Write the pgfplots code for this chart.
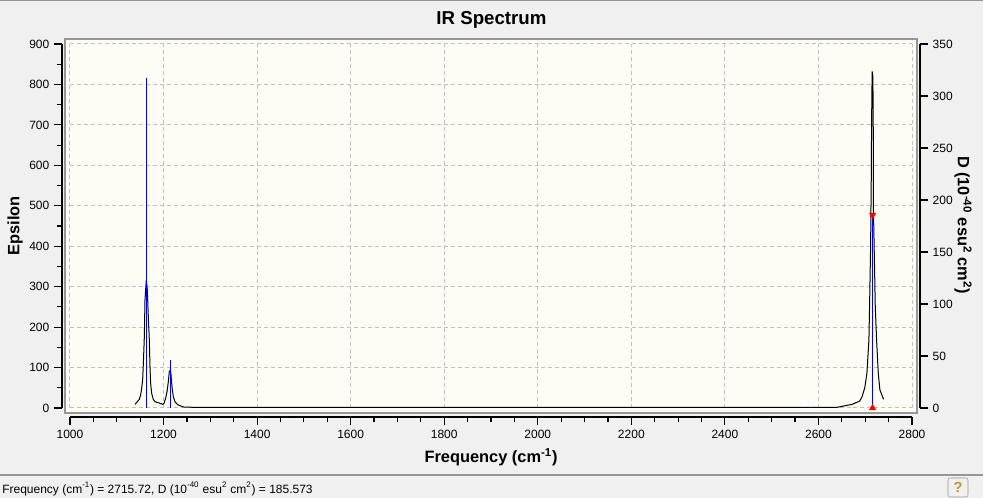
\documentclass[border=0pt]{standalone}
\usepackage{fontspec}
\setmainfont{Liberation Sans}
\usepackage{pgfplots}
\pgfplotsset{compat=1.18}

\definecolor{bgc}{RGB}{240,240,240}
\definecolor{plotbg}{RGB}{253,253,245}
\definecolor{framec}{RGB}{150,150,150}
\definecolor{gridc}{RGB}{192,192,192}
\definecolor{helpc}{RGB}{190,150,40}

\pgfplotsset{
  commonax/.style={
    at={(52.5pt,67.5pt)}, anchor=south west,
    scale only axis, width=631.5pt, height=273pt,
    xmin=1000, xmax=2800,
    tick align=outside,
    major tick length=6pt, minor tick length=4pt,
    tick style={black, line width=0.9pt},
    axis line style={black, line width=0.9pt},
    tick label style={font=\fontsize{9}{10}\selectfont},
    /pgf/number format/assume math mode=true,
    /pgf/number format/1000 sep={},
    scaled ticks=false,
  }
}

\begin{document}
\begin{tikzpicture}
\fill[bgc] (0,0) rectangle (737.25pt,373.5pt);
\draw[framec, line width=1pt] (0,372.9pt) -- (737.25pt,372.9pt);
\draw[framec, line width=0.8pt] (0,17.25pt) -- (737.25pt,17.25pt);
\filldraw[fill=plotbg, draw=framec, line width=1.1pt] (48.75pt,63.75pt) rectangle (687.75pt,344.25pt);
\node[font=\bfseries\fontsize{14}{16}\selectfont] at (368.6pt,358.5pt) {IR Spectrum};
\node[anchor=west, font=\fontsize{9}{10}\selectfont, inner sep=0pt] at (1.5pt,6.75pt) {Frequency (cm\textsuperscript{-1}) = 2715.72, D (10\textsuperscript{-40} esu\textsuperscript{2} cm\textsuperscript{2}) = 185.573};
\draw[framec, fill=white!88!gray, rounded corners=1.5pt] (711pt,0.75pt) rectangle (726pt,15pt);
\node[font=\bfseries\fontsize{11}{12}\selectfont, text=helpc] at (718.5pt,8pt) {?};

\begin{axis}[commonax,
  ymin=0, ymax=900,
  axis x line*=bottom, axis y line*=left,
  axis x line shift=6.75pt, axis y line shift=6pt,
  xtick={1000,1200,...,2800}, minor x tick num=3,
  ytick={0,100,...,900}, minor y tick num=1,
  grid=major,
  major grid style={gridc, dash pattern=on 3pt off 2.2pt, line width=0.75pt},
  xlabel={Frequency (cm\textsuperscript{-1})},
  ylabel={Epsilon},
  every axis x label/.style={at={(axis description cs:0.5,-0.1346)}, anchor=center, font=\bfseries\fontsize{12.3}{14}\selectfont},
  every axis y label/.style={at={(axis description cs:-0.0653,0.5)}, rotate=90, anchor=center, font=\bfseries\fontsize{12.3}{14}\selectfont},
]
\addplot[black, line width=0.75pt, no marks] coordinates {
(1138.9,9.0) (1143.9,15.6) (1148.2,21.4) (1151.0,32.1) (1153.2,48.6) (1155.3,69.2)
(1156.7,106) (1158.9,176) (1160.3,267) (1163.1,316) (1165.3,292) (1167.4,226)
(1169.6,168) (1171.0,102) (1172.4,61) (1174.6,36) (1178.1,21) (1181.7,15.6)
(1188.8,13) (1198.1,9) (1200.9,11.5) (1204.5,24) (1208.0,44.5) (1210.2,65)
(1212.3,90) (1214.5,94) (1215.9,82) (1218.0,53) (1220.9,28) (1224.4,15.6)
(1229.4,9) (1235.1,5.7) (1242.2,2.5) (1260,1.8) (2640,1.8) (2650,4) (2672,9)
(2688,17) (2693,27) (2699,50) (2703.6,86) (2707.9,168) (2709.3,251) (2711.5,399)
(2712.9,564) (2713.6,696) (2714.3,786) (2715,832) (2716.4,819) (2717.2,687)
(2717.5,498) (2721.5,250) (2724.3,168) (2727.9,86) (2731.4,44.5) (2739.3,21.4)
};
\end{axis}

\begin{axis}[commonax,
  ymin=0, ymax=350,
  axis x line=none, axis y line*=right,
  axis y line shift=6pt,
  ytick={0,50,...,350},
  ylabel={D (10\textsuperscript{-40} esu\textsuperscript{2} cm\textsuperscript{2})},
  every axis y label/.style={at={(axis description cs:1.0606,0.5027)}, rotate=-90, anchor=center, font=\bfseries\fontsize{12.3}{14}\selectfont},
]
\addplot[ycomb, blue, line width=0.75pt, no marks] coordinates {
(1163.1,317) (1214.5,46.2) (2582,0.8) (2715.72,185.573)
};
\addplot[only marks, red, mark=triangle*, mark size=2.7pt, mark options={rotate=180}] coordinates {(2715.72,185.573)};
\addplot[only marks, red, mark=triangle*, mark size=2.7pt] coordinates {(2715.72,0)};
\end{axis}

\pgfresetboundingbox
\path[use as bounding box] (0,0) rectangle (737.25pt,373.5pt);
\end{tikzpicture}
\end{document}
